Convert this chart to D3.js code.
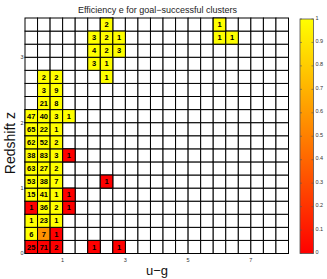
<!DOCTYPE html>
<html>
<head>
<meta charset="utf-8">
<script src="https://cdn.jsdelivr.net/npm/d3@7"></script>
<style>
  body { margin: 0; background: #fff; }
  svg { display: block; font-family: "Liberation Sans", Arial, sans-serif; }
</style>
</head>
<body>
<svg id="chart" width="327" height="279"></svg>
<script>
// cell data: bin centre in u-g, bin centre in z, number of clusters, efficiency
var ugCenter = [0, 0.4, 0.8, 2.0, 2.8,
                0, 0.4, 0.8,
                0, 0.4, 0.8,
                0, 0.4, 0.8, 1.2,
                0, 0.4, 0.8, 1.2,
                0, 0.4, 0.8, 2.4,
                0, 0.4, 0.8,
                0, 0.4, 0.8, 1.2,
                0, 0.4, 0.8,
                0, 0.4, 0.8,
                0, 0.4, 0.8, 1.2,
                0.4, 0.8,
                0.4, 0.8,
                0.4, 0.8, 2.4,
                2.0, 2.4,
                2.0, 2.4, 2.8,
                2.0, 2.4, 2.8, 6.0, 6.4,
                2.4, 6.0];
var zCenter = [0.1, 0.1, 0.1, 0.1, 0.1,
               0.3, 0.3, 0.3,
               0.5, 0.5, 0.5,
               0.7, 0.7, 0.7, 0.7,
               0.9, 0.9, 0.9, 0.9,
               1.1, 1.1, 1.1, 1.1,
               1.3, 1.3, 1.3,
               1.5, 1.5, 1.5, 1.5,
               1.7, 1.7, 1.7,
               1.9, 1.9, 1.9,
               2.1, 2.1, 2.1, 2.1,
               2.3, 2.3,
               2.5, 2.5,
               2.7, 2.7, 2.7,
               2.9, 2.9,
               3.1, 3.1, 3.1,
               3.3, 3.3, 3.3, 3.3, 3.3,
               3.5, 3.5];
var counts = [25, 71, 2, 1, 1,
              6, 7, 1,
              1, 23, 1,
              1, 36, 2, 1,
              15, 41, 1, 1,
              53, 38, 7, 1,
              63, 27, 2,
              38, 83, 3, 1,
              62, 52, 2,
              65, 22, 1,
              47, 40, 3, 1,
              21, 8,
              3, 9,
              2, 2, 1,
              3, 1,
              4, 2, 3,
              3, 2, 1, 1, 1,
              2, 1];
var efficiency = [0, 0, 0, 0, 0,
                  1, 0.57, 0,
                  1, 1, 1,
                  0, 1, 1, 0,
                  1, 1, 1, 0,
                  1, 1, 1, 0,
                  1, 1, 1,
                  1, 1, 1, 0,
                  1, 1, 1,
                  1, 1, 1,
                  1, 1, 1, 1,
                  1, 1,
                  1, 1,
                  1, 1, 1,
                  1, 1,
                  1, 1, 1,
                  1, 1, 1, 1, 1,
                  1, 1];

var xTicks = [1, 3, 5, 7];
var yTicks = [0, 1, 2, 3];
var cbTicks = [0, 0.1, 0.2, 0.3, 0.4, 0.5, 0.6, 0.7, 0.8, 0.9, 1];

var binW = 0.4, binH = 0.2;
var xMin = -0.2, xMax = 8.2, yMin = 0, yMax = 3.6;

var svg = d3.select("#chart");

var x = d3.scaleLinear().domain([xMin, xMax]).range([25, 288.5]);
var y = d3.scaleLinear().domain([yMin, yMax]).range([253.5, 18]);

// autumn colormap: red -> yellow
var color = function(e) { return d3.rgb(255, Math.round(255 * e), 0).toString(); };

// empty grid cells
var nCols = Math.round((xMax - xMin) / binW), nRows = Math.round((yMax - yMin) / binH);
var grid = [];
for (var i = 0; i < nCols; i++) {
  for (var j = 0; j < nRows; j++) grid.push({ x0: xMin + i * binW, y0: yMin + j * binH });
}
svg.append("g").selectAll("rect")
  .data(grid)
  .enter().append("rect")
    .attr("x", function(d) { return x(d.x0); })
    .attr("y", function(d) { return y(d.y0 + binH); })
    .attr("width", x(binW) - x(0))
    .attr("height", y(0) - y(binH))
    .attr("fill", "#fff")
    .attr("stroke", "#000")
    .attr("stroke-width", 1);

var cells = counts.map(function(c, i) {
  return { ug: ugCenter[i], z: zCenter[i], n: c, e: efficiency[i] };
});

var cg = svg.append("g");
cg.selectAll("rect")
  .data(cells)
  .enter().append("rect")
    .attr("x", function(d) { return x(d.ug - binW / 2); })
    .attr("y", function(d) { return y(d.z + binH / 2); })
    .attr("width", x(binW) - x(0))
    .attr("height", y(0) - y(binH))
    .attr("fill", function(d) { return color(d.e); })
    .attr("stroke", "#000")
    .attr("stroke-width", 1);

cg.selectAll("text")
  .data(cells)
  .enter().append("text")
    .attr("x", function(d) { return x(d.ug); })
    .attr("y", function(d) { return y(d.z); })
    .attr("dy", "0.36em")
    .attr("text-anchor", "middle")
    .attr("font-size", "7.5px")
    .attr("font-weight", "bold")
    .attr("fill", "#000")
    .text(function(d) { return d.n; });

// axes tick labels
svg.append("g").selectAll("text")
  .data(xTicks)
  .enter().append("text")
    .attr("x", function(d) { return x(d); })
    .attr("y", 262)
    .attr("text-anchor", "middle")
    .attr("font-size", "5.5px")
    .attr("fill", "#333")
    .text(function(d) { return d; });

svg.append("g").selectAll("text")
  .data(yTicks)
  .enter().append("text")
    .attr("x", 23.5)
    .attr("y", function(d) { return y(d); })
    .attr("dy", "0.36em")
    .attr("text-anchor", "end")
    .attr("font-size", "5.5px")
    .attr("fill", "#333")
    .text(function(d) { return d; });

// title and axis labels
svg.append("text")
  .attr("x", 157.5).attr("y", 13)
  .attr("text-anchor", "middle")
  .attr("font-size", "9px")
  .attr("fill", "#222")
  .text("Efficiency e for goal\u2212successful clusters");

svg.append("text")
  .attr("x", 157).attr("y", 275)
  .attr("text-anchor", "middle")
  .attr("font-size", "13px")
  .attr("fill", "#111")
  .text("u\u2212g");

svg.append("text")
  .attr("transform", "translate(15,143) rotate(-90)")
  .attr("text-anchor", "middle")
  .attr("font-size", "14px")
  .attr("fill", "#111")
  .text("Redshift z");

// colorbar
var cb = d3.scaleLinear().domain([0, 1]).range([253.5, 19]);
var defs = svg.append("defs");
var grad = defs.append("linearGradient")
  .attr("id", "autumn").attr("x1", 0).attr("y1", 1).attr("x2", 0).attr("y2", 0);
grad.append("stop").attr("offset", "0%").attr("stop-color", color(0));
grad.append("stop").attr("offset", "100%").attr("stop-color", color(1));

svg.append("rect")
  .attr("x", 300).attr("y", cb(1))
  .attr("width", 13.5).attr("height", cb(0) - cb(1))
  .attr("fill", "url(#autumn)")
  .attr("stroke", "#555").attr("stroke-width", 0.8);

var cbt = svg.append("g").selectAll("g")
  .data(cbTicks)
  .enter().append("g");
cbt.append("line")
  .attr("x1", 300).attr("x2", 302)
  .attr("y1", function(d) { return cb(d); }).attr("y2", function(d) { return cb(d); })
  .attr("stroke", "#555").attr("stroke-width", 0.6);
cbt.append("line")
  .attr("x1", 311.5).attr("x2", 313.5)
  .attr("y1", function(d) { return cb(d); }).attr("y2", function(d) { return cb(d); })
  .attr("stroke", "#555").attr("stroke-width", 0.6);
cbt.append("text")
  .attr("x", 315.5)
  .attr("y", function(d) { return cb(d); })
  .attr("dy", "0.1em")
  .attr("font-size", "5.5px")
  .attr("fill", "#333")
  .text(function(d) { return d; });
</script>
</body>
</html>
